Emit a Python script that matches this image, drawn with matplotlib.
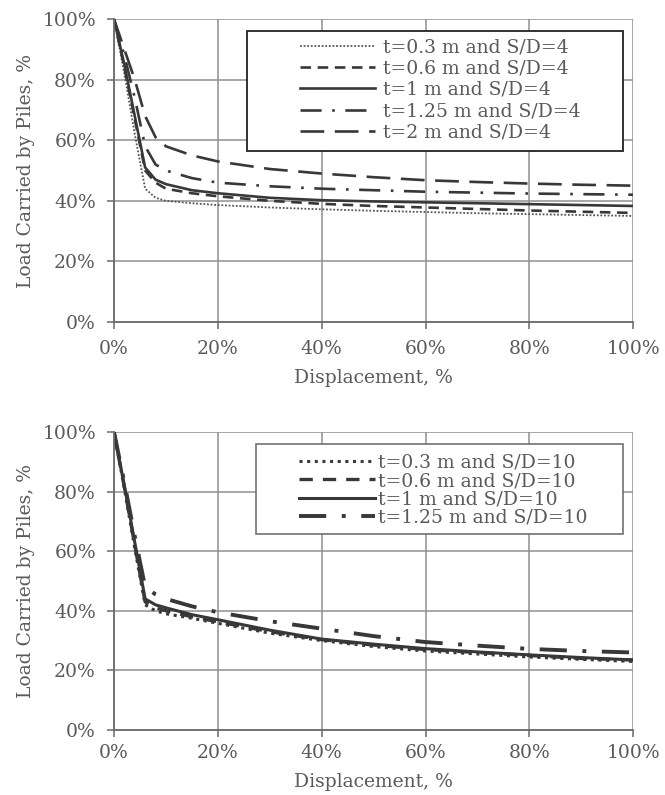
import matplotlib
matplotlib.use("Agg")
import matplotlib.pyplot as plt
from matplotlib.patches import Rectangle
from matplotlib.ticker import PercentFormatter

plt.rcParams['font.family'] = ['DejaVu Serif']

# displacement, % (shared sample points)
disp = [0, 2, 4, 6, 8, 10, 15, 20, 30, 40, 50, 60, 70, 80, 90, 100]

# top panel, S/D=4
labels_top = ["t=0.3 m and S/D=4", "t=0.6 m and S/D=4", "t=1 m and S/D=4",
              "t=1.25 m and S/D=4", "t=2 m and S/D=4"]
t03_sd4 = [100, 82, 62, 44, 41, 40, 39.2, 38.6, 37.8, 37.2, 36.7, 36.3, 35.9, 35.6, 35.3, 35.0]
t06_sd4 = [100, 84, 67, 50, 46, 44, 42.5, 41.5, 40, 39, 38.3, 37.8, 37.3, 36.8, 36.4, 36.0]
t1_sd4 = [100, 85, 68, 51, 47, 45.5, 43.5, 42.5, 41, 40.2, 39.8, 39.5, 39.2, 38.9, 38.6, 38.3]
t125_sd4 = [100, 88, 74, 58, 52, 50, 47.5, 46, 44.8, 44, 43.5, 43, 42.7, 42.4, 42.2, 42.0]
t2_sd4 = [100, 90, 80, 68, 61, 58, 55, 53, 50.5, 49, 47.8, 46.8, 46.2, 45.7, 45.3, 45.0]

# bottom panel, S/D=10
labels_bot = ["t=0.3 m and S/D=10", "t=0.6 m and S/D=10", "t=1 m and S/D=10",
              "t=1.25 m and S/D=10"]
t03_sd10 = [100, 81, 61, 42, 40, 39, 37.5, 35.8, 32.5, 30, 28, 26.5, 25.5, 24.5, 23.7, 23]
t06_sd10 = [100, 81.5, 62, 43, 41, 40, 38, 36.3, 33, 30.3, 28.5, 27, 26, 25, 24, 23.5]
t1_sd10 = [100, 82, 63, 44, 42, 41, 38.7, 37, 33.5, 30.5, 28.8, 27.3, 26.2, 25.2, 24.3, 23.5]
t125_sd10 = [100, 83, 65, 48, 45.5, 44, 41.5, 39.5, 36.5, 34, 31.5, 29.5, 28.3, 27.2, 26.5, 26]

ink = '#383838'
txt = '#5a5a5a'
fs = 13.5

fig = plt.figure(figsize=(6.65, 7.95), dpi=100)
ax1 = fig.add_axes([0.1714, 0.595, 0.781, 0.381])
ax2 = fig.add_axes([0.1714, 0.0818, 0.781, 0.3748])


def style_axes(ax, xpad, xlab_y):
    ax.set_xlim(0, 100)
    ax.set_ylim(0, 100)
    ax.set_xticks(range(0, 101, 20))
    ax.set_yticks(range(0, 101, 20))
    ax.xaxis.set_major_formatter(PercentFormatter(decimals=0))
    ax.yaxis.set_major_formatter(PercentFormatter(decimals=0))
    ax.grid(True, color='#8f8f8f', lw=1.1)
    ax.set_axisbelow(True)
    for s in ['top', 'right']:
        ax.spines[s].set_visible(False)
    for s in ['left', 'bottom']:
        ax.spines[s].set_color('#6a6a6a')
        ax.spines[s].set_linewidth(1.3)
    ax.tick_params(direction='out', length=5, width=1.1, color='#6a6a6a',
                   labelsize=fs, labelcolor=txt)
    ax.tick_params(axis='y', pad=8)
    ax.tick_params(axis='x', pad=xpad)
    ax.set_xlabel("Displacement, %", fontsize=fs, color=txt)
    ax.set_ylabel("Load Carried by Piles, %", fontsize=fs, color=txt)
    ax.xaxis.set_label_coords(0.5, xlab_y)
    ax.yaxis.set_label_coords(-0.152, 0.5)


def boxed_legend(ax, box, anchor, handlelength, textpad, spacing, edge, lw):
    x0, y0, x1, y1 = box
    ax.add_patch(Rectangle((x0, y0), x1 - x0, y1 - y0, transform=ax.transAxes,
                           facecolor='white', edgecolor=edge, lw=lw, zorder=4))
    leg = ax.legend(loc='center left', bbox_to_anchor=anchor, fontsize=fs,
                    frameon=False, handlelength=handlelength,
                    handletextpad=textpad, labelspacing=spacing,
                    borderpad=0, borderaxespad=0)
    leg.set_zorder(5)
    for t in leg.get_texts():
        t.set_color(txt)
    return leg


# top panel
ax1.plot(disp, t03_sd4, color='#555555', lw=1.3, ls=(0, (1, 1)), label=labels_top[0])
ax1.plot(disp, t06_sd4, color=ink, lw=1.9, ls=(0, (4, 2.5)), label=labels_top[1])
ax1.plot(disp, t1_sd4, color=ink, lw=1.9, ls='-', label=labels_top[2])
ax1.plot(disp, t125_sd4, color=ink, lw=1.9, ls=(0, (8, 4, 1, 4)), label=labels_top[3])
ax1.plot(disp, t2_sd4, color=ink, lw=1.9, ls=(0, (9, 4)), label=labels_top[4])
style_axes(ax1, 8, -0.155)
boxed_legend(ax1, (0.256, 0.564, 0.981, 0.960), (0.358, 0.766),
             4.0, 0.43, 0.17, '#222222', 1.3)

# bottom panel
ax2.plot(disp, t03_sd10, color=ink, lw=2.2, ls=(0, (1, 1.5)), label=labels_bot[0])
ax2.plot(disp, t06_sd10, color=ink, lw=2.4, ls=(0, (4, 3)), label=labels_bot[1])
ax2.plot(disp, t1_sd10, color=ink, lw=2.2, ls='-', label=labels_bot[2])
ax2.plot(disp, t125_sd10, color=ink, lw=2.8, ls=(0, (7, 4, 1, 4)), label=labels_bot[3])
style_axes(ax2, 5, -0.144)
boxed_legend(ax2, (0.274, 0.658, 0.981, 0.960), (0.356, 0.805),
             4.05, 0.16, 0.01, '#666666', 1.1)

fig.savefig("out.png", dpi=100, facecolor='white')
